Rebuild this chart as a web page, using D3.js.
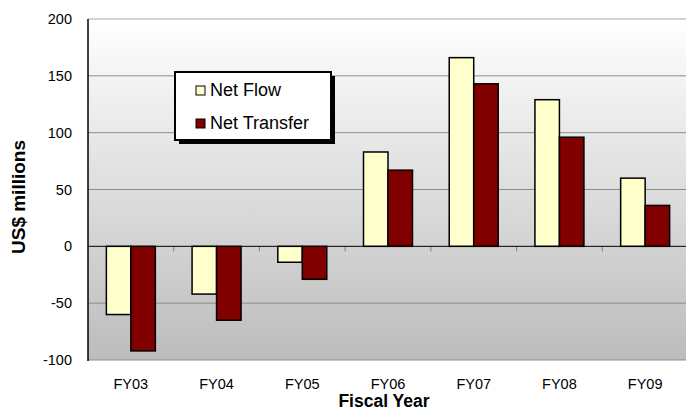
<!DOCTYPE html>
<html>
<head>
<meta charset="utf-8">
<script src="https://cdn.jsdelivr.net/npm/d3@7"></script>
<style>
  body { margin: 0; background: #fff; }
  text { font-family: "Liberation Sans", Arial, sans-serif; }
</style>
</head>
<body>
<script>
const years = ["FY03", "FY04", "FY05", "FY06", "FY07", "FY08", "FY09"];
const series = ["Net Flow", "Net Transfer"];
const netFlow = [-60, -42, -14, 83, 166, 129, 60];
const netTransfer = [-92, -65, -29, 67, 143, 96, 36];
const yTicks = [-100, -50, 0, 50, 100, 150, 200];
const colors = ["#ffffcc", "#800000"];

const main = () => {
  const width = 686, height = 412;
  const left = 88, right = 688, top = 19, bottom = 360;

  const svg = d3.select("body")
    .append("svg")
    .attr("width", width)
    .attr("height", height);

  const defs = svg.append("defs");
  const grad = defs.append("linearGradient")
    .attr("id", "bg")
    .attr("x1", 0).attr("y1", 0).attr("x2", 0).attr("y2", 1);
  grad.append("stop").attr("offset", "0%").attr("stop-color", "#ffffff");
  grad.append("stop").attr("offset", "100%").attr("stop-color", "#bcbcbc");

  const x0 = d3.scaleBand().domain(years).range([left, right]);
  const x1 = d3.scaleBand().domain(series)
    .range([0, x0.bandwidth()])
    .paddingInner(0)
    .paddingOuter(0.75);
  const y = d3.scaleLinear().domain([-100, 200]).range([bottom, top]);

  // plot background
  svg.append("rect")
    .attr("x", left).attr("y", top)
    .attr("width", right - left).attr("height", bottom - top)
    .attr("fill", "url(#bg)");

  // gridlines
  svg.selectAll("line.grid")
    .data(yTicks.filter(d => d !== 0))
    .enter()
    .append("line")
    .attr("class", "grid")
    .attr("x1", left).attr("x2", right)
    .attr("y1", d => y(d)).attr("y2", d => y(d))
    .attr("stroke", d => d === 200 ? "#c4c4c4" : "#8c8c8c")
    .attr("stroke-width", d => d === 200 ? 1.5 : 1);

  // y tick labels
  svg.selectAll("text.ytick")
    .data(yTicks)
    .enter()
    .append("text")
    .attr("class", "ytick")
    .attr("x", 72)
    .attr("y", d => y(d) + 5)
    .attr("text-anchor", "end")
    .attr("font-size", "14.5px")
    .attr("fill", "#000")
    .text(d => d);

  // bars
  const data = years.map((yr, i) => ({ yr, vals: [netFlow[i], netTransfer[i]] }));
  const group = svg.selectAll("g.year")
    .data(data)
    .enter()
    .append("g")
    .attr("class", "year")
    .attr("transform", d => `translate(${x0(d.yr)},0)`);

  group.selectAll("rect")
    .data(d => d.vals.map((v, j) => ({ s: series[j], v, j })))
    .enter()
    .append("rect")
    .attr("x", d => x1(d.s))
    .attr("y", d => y(Math.max(0, d.v)))
    .attr("width", x1.bandwidth())
    .attr("height", d => Math.abs(y(d.v) - y(0)))
    .attr("fill", d => colors[d.j])
    .attr("stroke", "#000")
    .attr("stroke-width", 1.5);

  // category ticks on zero line
  svg.selectAll("line.ctick")
    .data(years.slice(1))
    .enter()
    .append("line")
    .attr("class", "ctick")
    .attr("x1", d => x0(d)).attr("x2", d => x0(d))
    .attr("y1", y(0)).attr("y2", y(0) + 5)
    .attr("stroke", "#808080");

  // zero line and left axis
  svg.append("line")
    .attr("x1", left).attr("x2", right)
    .attr("y1", y(0)).attr("y2", y(0))
    .attr("stroke", "#000");
  svg.append("line")
    .attr("x1", left).attr("x2", left)
    .attr("y1", top).attr("y2", bottom + 1)
    .attr("stroke", "#000")
    .attr("stroke-width", 1.5);

  // x labels
  svg.selectAll("text.xtick")
    .data(years)
    .enter()
    .append("text")
    .attr("class", "xtick")
    .attr("x", d => x0(d) + x0.bandwidth() / 2)
    .attr("y", 389)
    .attr("text-anchor", "middle")
    .attr("font-size", "14.5px")
    .text(d => d);

  // axis titles
  svg.append("text")
    .attr("x", 384)
    .attr("y", 407)
    .attr("text-anchor", "middle")
    .attr("font-size", "17.5px")
    .attr("font-weight", "bold")
    .text("Fiscal Year");

  svg.append("text")
    .attr("transform", "translate(25,197) rotate(-90)")
    .attr("text-anchor", "middle")
    .attr("font-size", "19px")
    .attr("font-weight", "bold")
    .text("US$ millions");

  // legend
  const lg = svg.append("g").attr("transform", "translate(175,72)");
  lg.append("rect")
    .attr("x", 4).attr("y", 4)
    .attr("width", 156).attr("height", 68)
    .attr("fill", "#000");
  lg.append("rect")
    .attr("x", 0).attr("y", 0)
    .attr("width", 156).attr("height", 68)
    .attr("fill", "#fff")
    .attr("stroke", "#000")
    .attr("stroke-width", 2);

  const item = lg.selectAll("g.item")
    .data(series)
    .enter()
    .append("g")
    .attr("class", "item")
    .attr("transform", (d, i) => `translate(21,${14 + i * 33})`);
  item.append("rect")
    .attr("width", 9).attr("height", 9)
    .attr("fill", (d, i) => colors[i])
    .attr("stroke", "#000")
    .attr("stroke-width", 1);
  item.append("text")
    .attr("x", 14)
    .attr("y", 10)
    .attr("font-size", "18px")
    .text(d => d);
};

window.onload = main;
</script>
</body>
</html>
